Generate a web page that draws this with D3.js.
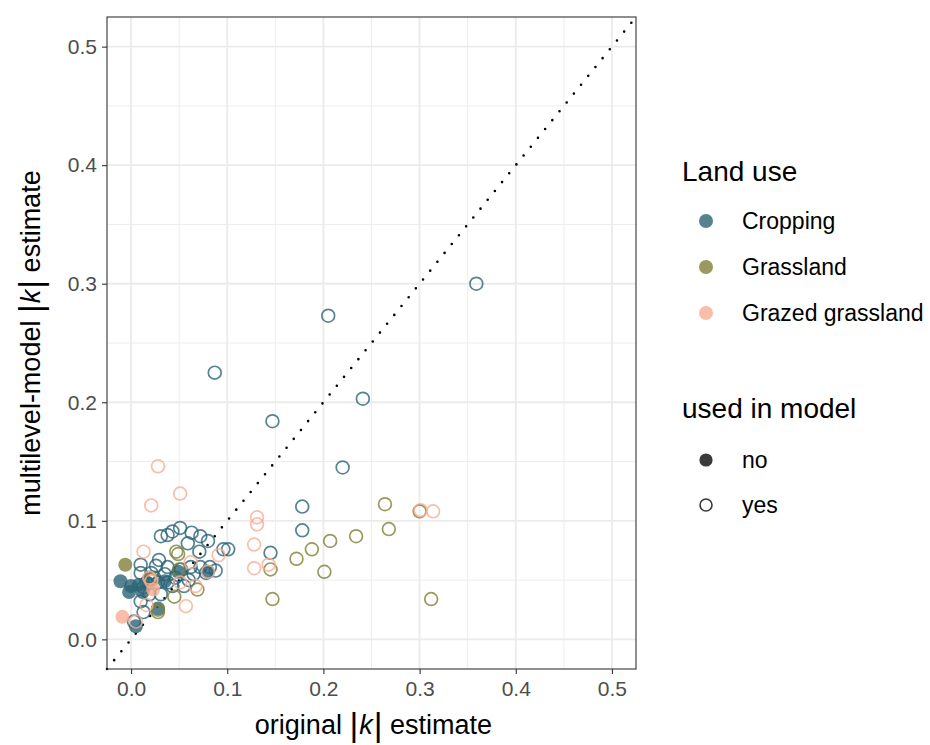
<!DOCTYPE html>
<html>
<head>
<meta charset="utf-8">
<script src="https://cdn.jsdelivr.net/npm/d3@7"></script>
<style>
  body { margin: 0; background: #fff; }
  text { font-family: "Liberation Sans", Arial, sans-serif; }
</style>
</head>
<body>
<svg id="chart" width="930" height="745"></svg>
<script>
// land use categories and their colours
const landUses = ['Cropping', 'Grassland', 'Grazed grassland'];
const landColors = ['#2b6476', '#808038', '#f9ac93'];
const usedLevels = ['no', 'yes'];

const xTicks = [0, 0.1, 0.2, 0.3, 0.4, 0.5];
const yTicks = [0, 0.1, 0.2, 0.3, 0.4, 0.5];

// [original |k|, multilevel |k|, used in model]
const cropping = [
  [0.359, 0.300, 'yes'], [0.205, 0.273, 'yes'], [0.087, 0.225, 'yes'], [0.147, 0.184, 'yes'],
  [0.241, 0.203, 'yes'], [0.220, 0.145, 'yes'], [0.178, 0.112, 'yes'], [0.178, 0.092, 'yes'],
  [0.145, 0.073, 'yes'], [0.031, 0.087, 'yes'], [0.038, 0.088, 'yes'], [0.043, 0.091, 'yes'],
  [0.051, 0.094, 'yes'], [0.059, 0.081, 'yes'], [0.063, 0.090, 'yes'], [0.072, 0.087, 'yes'],
  [0.080, 0.083, 'yes'], [0.096, 0.076, 'yes'], [0.101, 0.076, 'yes'], [0.029, 0.067, 'yes'],
  [0.010, 0.063, 'yes'], [0.010, 0.056, 'yes'], [0.021, 0.056, 'yes'], [0.038, 0.061, 'yes'],
  [0.052, 0.059, 'yes'], [0.062, 0.061, 'yes'], [0.072, 0.061, 'yes'], [0.065, 0.055, 'yes'],
  [0.078, 0.056, 'yes'], [0.028, 0.048, 'yes'], [0.038, 0.048, 'yes'], [0.043, 0.045, 'yes'],
  [0.055, 0.045, 'yes'], [0.013, 0.044, 'yes'], [0.019, 0.038, 'yes'], [0.031, 0.038, 'yes'],
  [0.010, 0.032, 'yes'], [0.013, 0.023, 'yes'], [0.003, 0.015, 'yes'], [0.088, 0.058, 'yes'],
  [0.071, 0.074, 'yes'], [0.046, 0.052, 'yes'], [0.024, 0.052, 'yes'], [0.035, 0.055, 'yes'],
  [0.060, 0.050, 'yes'], [0.016, 0.048, 'yes'], [0.026, 0.062, 'yes'], [0.082, 0.061, 'yes'],
  [-0.011, 0.049, 'no'], [0.000, 0.045, 'no'], [-0.002, 0.040, 'no'], [0.005, 0.011, 'no'],
  [0.028, 0.026, 'no'], [0.049, 0.057, 'no'], [0.080, 0.057, 'no'], [0.008, 0.046, 'no'],
  [0.018, 0.047, 'no'], [0.035, 0.049, 'no'], [0.012, 0.040, 'no']
];
const grassland = [
  [0.264, 0.114, 'yes'], [0.268, 0.093, 'yes'], [0.300, 0.108, 'yes'], [0.234, 0.087, 'yes'],
  [0.207, 0.083, 'yes'], [0.188, 0.076, 'yes'], [0.172, 0.068, 'yes'], [0.201, 0.057, 'yes'],
  [0.145, 0.059, 'yes'], [0.147, 0.034, 'yes'], [0.312, 0.034, 'yes'], [0.047, 0.074, 'yes'],
  [0.049, 0.072, 'yes'], [0.050, 0.059, 'yes'], [0.020, 0.050, 'yes'], [0.020, 0.052, 'yes'],
  [0.069, 0.042, 'yes'], [0.045, 0.036, 'yes'], [0.028, 0.025, 'yes'], [0.028, 0.023, 'yes'],
  [-0.006, 0.063, 'no']
];
const grazed = [
  [0.028, 0.146, 'yes'], [0.021, 0.113, 'yes'], [0.051, 0.123, 'yes'], [0.131, 0.103, 'yes'],
  [0.131, 0.097, 'yes'], [0.128, 0.080, 'yes'], [0.128, 0.060, 'yes'], [0.143, 0.063, 'yes'],
  [0.301, 0.109, 'yes'], [0.314, 0.108, 'yes'], [0.013, 0.074, 'yes'], [0.019, 0.052, 'yes'],
  [0.021, 0.049, 'yes'], [0.062, 0.065, 'yes'], [0.051, 0.048, 'yes'], [0.067, 0.045, 'yes'],
  [0.080, 0.057, 'yes'], [0.091, 0.071, 'yes'], [0.016, 0.029, 'yes'], [0.005, 0.015, 'yes'],
  [0.057, 0.028, 'yes'],
  [-0.009, 0.019, 'no'], [0.023, 0.042, 'no']
];

const svg = d3.select('#chart');
const panel = { left: 107, right: 636, top: 17, bottom: 669 };

const x = d3.scaleLinear().domain([-0.025, 0.525]).range([panel.left, panel.right]);
const y = d3.scaleLinear().domain([-0.025, 0.525]).range([panel.bottom, panel.top]);

// grid
const grid = svg.append('g');
const minor = d3.range(-0.05, 0.55, 0.1).map(d => +d.toFixed(2)).filter(d => d > -0.025 && d < 0.525);
grid.selectAll('.minor-x').data(minor).join('line')
  .attr('x1', d => x(d)).attr('x2', d => x(d)).attr('y1', panel.top).attr('y2', panel.bottom)
  .attr('stroke', '#ebebeb').attr('stroke-width', 0.9);
grid.selectAll('.minor-y').data(minor).join('line')
  .attr('y1', d => y(d)).attr('y2', d => y(d)).attr('x1', panel.left).attr('x2', panel.right)
  .attr('stroke', '#ebebeb').attr('stroke-width', 0.9);
grid.selectAll('.major-x').data(xTicks).join('line')
  .attr('x1', d => x(d)).attr('x2', d => x(d)).attr('y1', panel.top).attr('y2', panel.bottom)
  .attr('stroke', '#ebebeb').attr('stroke-width', 1.8);
grid.selectAll('.major-y').data(yTicks).join('line')
  .attr('y1', d => y(d)).attr('y2', d => y(d)).attr('x1', panel.left).attr('x2', panel.right)
  .attr('stroke', '#ebebeb').attr('stroke-width', 1.8);

// 1:1 line
svg.append('line')
  .attr('x1', x(-0.025)).attr('y1', y(-0.025)).attr('x2', x(0.525)).attr('y2', y(0.525))
  .attr('stroke', '#000').attr('stroke-width', 2.6).attr('stroke-linecap', 'round')
  .attr('stroke-dasharray', '0 11.4');

// points
const colorOf = d3.scaleOrdinal().domain(landUses).range(landColors);
const all = [
  ...cropping.map(d => ({ x: d[0], y: d[1], used: d[2], land: 'Cropping' })),
  ...grassland.map(d => ({ x: d[0], y: d[1], used: d[2], land: 'Grassland' })),
  ...grazed.map(d => ({ x: d[0], y: d[1], used: d[2], land: 'Grazed grassland' }))
];
const pts = svg.append('g');
pts.selectAll('circle').data(all).join('circle')
  .attr('cx', d => x(d.x)).attr('cy', d => y(d.y))
  .attr('r', d => d.used === 'no' ? 7 : 6.4)
  .attr('fill', d => d.used === 'no' ? colorOf(d.land) : 'none')
  .attr('stroke', d => d.used === 'no' ? 'none' : colorOf(d.land))
  .attr('stroke-width', 1.7)
  .attr('opacity', 0.8);

// panel border
svg.append('rect')
  .attr('x', panel.left).attr('y', panel.top)
  .attr('width', panel.right - panel.left).attr('height', panel.bottom - panel.top)
  .attr('fill', 'none').attr('stroke', '#333').attr('stroke-width', 1.1);

// axes
const xAxis = svg.append('g').attr('transform', `translate(0,${panel.bottom})`)
  .call(d3.axisBottom(x).tickValues(xTicks).tickFormat(d3.format('.1f')).tickSize(5).tickPadding(5));
const yAxis = svg.append('g').attr('transform', `translate(${panel.left},0)`)
  .call(d3.axisLeft(y).tickValues(yTicks).tickFormat(d3.format('.1f')).tickSize(5).tickPadding(5));
[xAxis, yAxis].forEach(a => {
  a.select('.domain').remove();
  a.selectAll('.tick line').attr('stroke', '#333').attr('stroke-width', 1.1);
  a.selectAll('.tick text').attr('fill', '#4d4d4d').style('font-size', '21px');
});
xAxis.selectAll('.tick text').attr('dy', '0.8em');

// axis titles with |k|
function kTitle(sel, before, after) {
  sel.append('tspan').text(before);
  sel.append('tspan').text('|').style('font-size', '34px').attr('dy', 2);
  sel.append('tspan').text('k').style('font-style', 'italic').attr('dy', -2).attr('dx', 1);
  sel.append('tspan').text('|').style('font-size', '34px').attr('dy', 2).attr('dx', 1);
  sel.append('tspan').text(after).attr('dy', -2);
}
const xt = svg.append('text').attr('x', x(0.25) + 2).attr('y', 734)
  .attr('text-anchor', 'middle').style('font-size', '27px').attr('fill', '#000');
kTitle(xt, 'original ', ' estimate');
const yt = svg.append('text').attr('transform', `translate(40,${y(0.25)}) rotate(-90)`)
  .attr('text-anchor', 'middle').style('font-size', '27px').attr('fill', '#000');
kTitle(yt, 'multilevel-model ', ' estimate');

// legends
const leg = svg.append('g');
leg.append('text').attr('x', 682).attr('y', 181).text('Land use')
  .style('font-size', '28px').attr('fill', '#000');
landUses.forEach((l, i) => {
  const cy = 221 + i * 46;
  leg.append('circle').attr('cx', 706).attr('cy', cy).attr('r', 7)
    .attr('fill', colorOf(l)).attr('opacity', 0.8);
  leg.append('text').attr('x', 742).attr('y', cy + 8).text(l)
    .style('font-size', '23px').attr('fill', '#000');
});
leg.append('text').attr('x', 682).attr('y', 418).text('used in model')
  .style('font-size', '28px').attr('fill', '#000');
usedLevels.forEach((u, i) => {
  const cy = 460 + i * 45;
  leg.append('circle').attr('cx', 706).attr('cy', cy).attr('r', u === 'no' ? 6.6 : 6)
    .attr('fill', u === 'no' ? '#3a3a3a' : 'none')
    .attr('stroke', u === 'no' ? 'none' : '#3a3a3a').attr('stroke-width', 1.6);
  leg.append('text').attr('x', 742).attr('y', cy + 8).text(u)
    .style('font-size', '23px').attr('fill', '#000');
});
</script>
</body>
</html>
